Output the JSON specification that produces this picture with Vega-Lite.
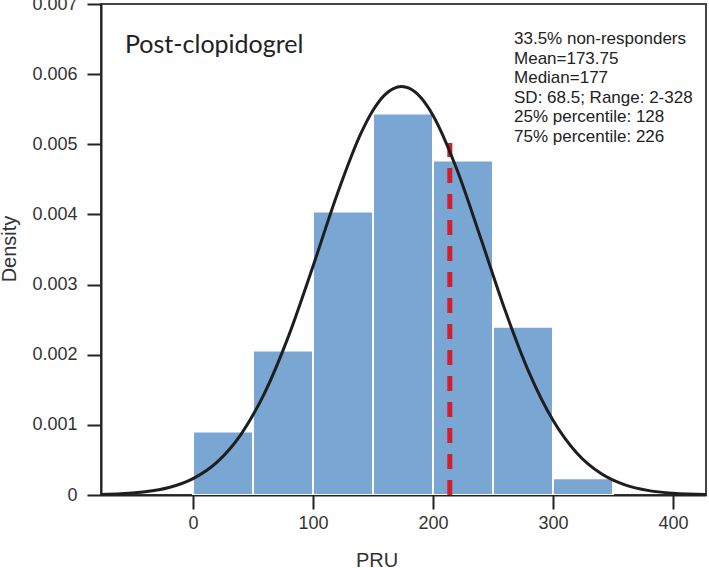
{
  "$schema": "https://vega.github.io/schema/vega-lite/v6.json",
  "width": 605,
  "height": 491,
  "autosize": {"type": "none"},
  "padding": {"left": 101, "top": 4, "right": 3, "bottom": 73},
  "background": "white",
  "config": {
    "view": {"stroke": "#444", "strokeWidth": 2},
    "axis": {
      "grid": false,
      "zindex": 1,
      "domainColor": "#222",
      "domainWidth": 2,
      "tickColor": "#222",
      "tickWidth": 2,
      "tickSize": 14,
      "labelFont": "Liberation Sans",
      "labelFontSize": 18,
      "labelColor": "#333",
      "titleFont": "Liberation Sans",
      "titleFontSize": 20,
      "titleFontWeight": "normal",
      "titleColor": "#333"
    }
  },
  "datasets": {
    "bins": [
      {"start": 0, "end": 50, "base": 0, "density": 0.000904},
      {"start": 50, "end": 100, "base": 0, "density": 0.00206},
      {"start": 100, "end": 150, "base": 0, "density": 0.00404},
      {"start": 150, "end": 200, "base": 0, "density": 0.00544},
      {"start": 200, "end": 250, "base": 0, "density": 0.00477},
      {"start": 250, "end": 300, "base": 0, "density": 0.0024},
      {"start": 300, "end": 350, "base": 0, "density": 0.00024}
    ],
    "curve": [
      {"pru": -77, "density": 0.00000717},
      {"pru": -60, "density": 0.00001725},
      {"pru": -40, "density": 0.00004477},
      {"pru": -20, "density": 0.00010665},
      {"pru": 0, "density": 0.0002334},
      {"pru": 20, "density": 0.0004691},
      {"pru": 40, "density": 0.0008656},
      {"pru": 60, "density": 0.0014671},
      {"pru": 80, "density": 0.002283},
      {"pru": 100, "density": 0.0032623},
      {"pru": 120, "density": 0.0042808},
      {"pru": 140, "density": 0.0051583},
      {"pru": 150, "density": 0.0054842},
      {"pru": 160, "density": 0.0057079},
      {"pru": 173.75, "density": 0.005824},
      {"pru": 180, "density": 0.0057998},
      {"pru": 190, "density": 0.0056624},
      {"pru": 200, "density": 0.0054117},
      {"pru": 220, "density": 0.0046371},
      {"pru": 240, "density": 0.0036485},
      {"pru": 260, "density": 0.0026361},
      {"pru": 280, "density": 0.0017491},
      {"pru": 300, "density": 0.0010656},
      {"pru": 320, "density": 0.0005961},
      {"pru": 340, "density": 0.0003063},
      {"pru": 360, "density": 0.0001445},
      {"pru": 380, "density": 0.0000626},
      {"pru": 400, "density": 0.00002489},
      {"pru": 428, "density": 0.00000594}
    ],
    "cutoff": [{"pru": 214, "low": 0, "high": 0.00502}],
    "heading": [{"label": "Post-clopidogrel", "px": -56.7, "py": 0.0063}],
    "stats": [{"lines": ["33.5% non-responders", "Mean=173.75", "Median=177", "SD: 68.5; Range: 2-328", "25% percentile: 128", "75% percentile: 226"], "px": 267.5, "py": 0.006429}]
  },
  "layer": [
    {
      "data": {"name": "bins"},
      "mark": {"type": "rect", "color": "#7aa6d4", "stroke": "white", "strokeWidth": 2, "clip": true},
      "encoding": {
        "x": {
          "field": "start",
          "type": "quantitative",
          "scale": {"domain": [-76.7, 427.5], "nice": false, "zero": false},
          "axis": {"values": [0, 100, 200, 300, 400], "title": "PRU", "labelPadding": 5, "titleX": 275.5, "titleY": 71, "titleBaseline": "alphabetic", "titleAlign": "center"}
        },
        "x2": {"field": "end"},
        "y": {
          "field": "density",
          "type": "quantitative",
          "scale": {"domain": [0, 0.007], "nice": false},
          "axis": {"values": [0, 0.001, 0.002, 0.003, 0.004, 0.005, 0.006, 0.007], "format": ".3~f", "title": "Density", "labelPadding": 10, "titleX": -86, "titleY": 244.5, "titleAngle": -90, "titleBaseline": "alphabetic", "titleAlign": "center"}
        },
        "y2": {"field": "base"}
      }
    },
    {
      "data": {"name": "cutoff"},
      "mark": {"type": "rule", "color": "#d21f2b", "strokeWidth": 5, "strokeDash": [15, 11]},
      "encoding": {
        "x": {"field": "pru", "type": "quantitative"},
        "y": {"field": "low", "type": "quantitative"},
        "y2": {"field": "high"}
      }
    },
    {
      "data": {"name": "curve"},
      "mark": {"type": "line", "color": "#1e1e1e", "strokeWidth": 3, "interpolate": "monotone", "clip": true},
      "encoding": {
        "x": {"field": "pru", "type": "quantitative"},
        "y": {"field": "density", "type": "quantitative"}
      }
    },
    {
      "data": {"name": "heading"},
      "mark": {"type": "text", "font": "Lato", "fontSize": 25, "color": "#222", "align": "left", "baseline": "alphabetic"},
      "encoding": {
        "x": {"field": "px", "type": "quantitative"},
        "y": {"field": "py", "type": "quantitative"},
        "text": {"field": "label", "type": "nominal"}
      }
    },
    {
      "data": {"name": "stats"},
      "mark": {"type": "text", "font": "Liberation Sans", "fontSize": 17, "lineHeight": 19.6, "color": "#222", "align": "left", "baseline": "alphabetic"},
      "encoding": {
        "x": {"field": "px", "type": "quantitative"},
        "y": {"field": "py", "type": "quantitative"},
        "text": {"field": "lines", "type": "nominal"}
      }
    }
  ]
}
